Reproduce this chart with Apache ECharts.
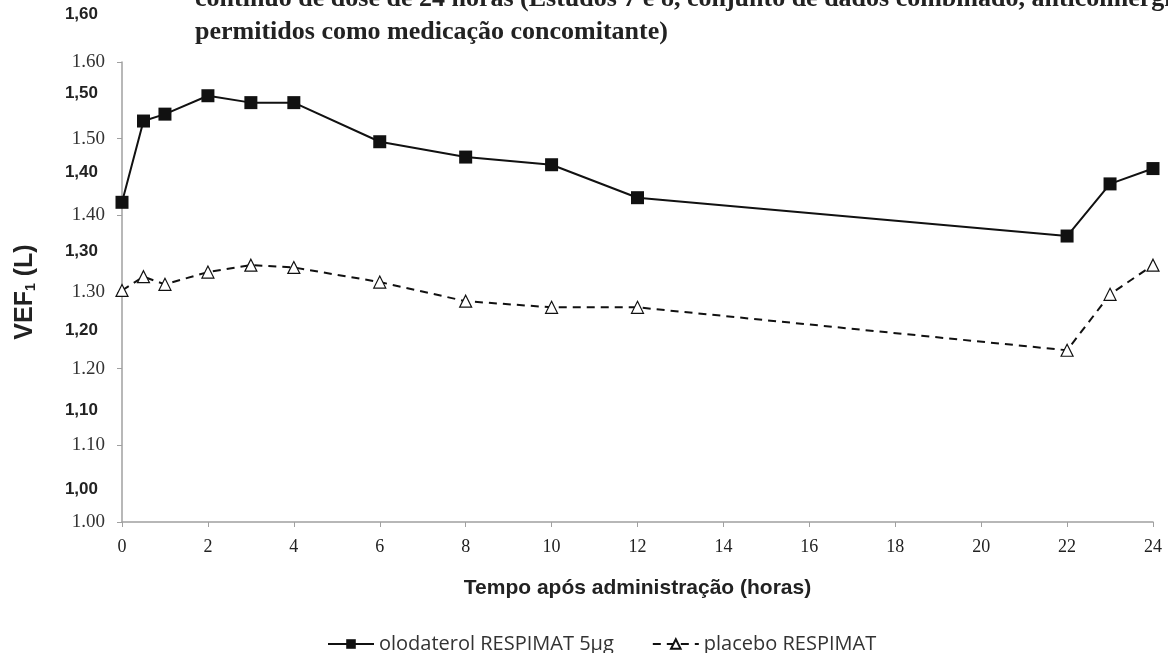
<!DOCTYPE html>
<html>
<head>
<meta charset="utf-8">
<script src="https://cdn.jsdelivr.net/npm/echarts@6/dist/echarts.min.js"></script>
<style>
  html, body { margin: 0; padding: 0; background: #fff; }
  #chart { width: 1168px; height: 653px; }
</style>
</head>
<body>
<div id="chart"></div>
<script>
// hours after dose
const hours = [0, 0.5, 1, 2, 3, 4, 6, 8, 10, 12, 22, 23, 24];
// FEV1 (L)
const olodaterol = [1.417, 1.523, 1.532, 1.556, 1.547, 1.547, 1.496, 1.476, 1.466, 1.423, 1.373, 1.441, 1.461];
const placebo = [1.302, 1.320, 1.310, 1.326, 1.335, 1.332, 1.313, 1.288, 1.280, 1.280, 1.224, 1.297, 1.335];

const seriesNames = ['olodaterol RESPIMAT 5µg', 'placebo RESPIMAT'];
const titleLines = [
  'contínuo de dose de 24 horas (Estudos 7 e 8, conjunto de dados combinado, anticolinérgicos',
  'permitidos como medicação concomitante)'
];

let myChart = echarts.init(document.getElementById('chart'));

const pairs = (ys) => hours.map((h, i) => [h, ys[i]]);

const option = {
  animation: false,
  grid: [
    { left: 122, right: 15, top: 62, bottom: 131 },
    // second, overlapping label column (comma labels)
    { left: 122, right: 15, top: 14, bottom: 164 }
  ],
  xAxis: [
    {
      type: 'value', gridIndex: 0, min: 0, max: 24, interval: 2,
      axisLine: { lineStyle: { color: '#a0a0a0', width: 1.5 } },
      axisTick: { show: true, length: 5, lineStyle: { color: '#a0a0a0' } },
      axisLabel: {
        color: '#222', fontSize: 18, margin: 16,
        fontFamily: 'Liberation Serif'
      },
      splitLine: { show: false },
      name: 'Tempo após administração (horas)',
      nameLocation: 'middle', nameGap: 56,
      nameTextStyle: { fontFamily: 'Liberation Sans', fontWeight: 'bold', fontSize: 21, color: '#222' }
    },
    { type: 'value', gridIndex: 1, min: 0, max: 24, show: false }
  ],
  yAxis: [
    {
      type: 'value', gridIndex: 0, min: 1.0, max: 1.6, interval: 0.1,
      axisLine: { show: true, lineStyle: { color: '#a0a0a0', width: 1.5 } },
      axisTick: { show: true, length: 5, lineStyle: { color: '#a0a0a0' } },
      axisLabel: {
        color: '#333', fontSize: 19, margin: 17,
        fontFamily: 'Liberation Serif',
        formatter: (v) => v.toFixed(2)
      },
      splitLine: { show: false }
    },
    {
      type: 'value', gridIndex: 1, min: 1.0, max: 1.6, interval: 0.1,
      axisLine: { show: false },
      axisTick: { show: false },
      axisLabel: {
        color: '#222', fontSize: 17, fontWeight: 'bold', margin: 24,
        fontFamily: 'Liberation Sans',
        formatter: (v) => v.toFixed(2).replace('.', ',')
      },
      splitLine: { show: false }
    }
  ],
  legend: {
    left: 322, top: 629,
    itemWidth: 46, itemHeight: 12, itemGap: 38,
    textStyle: { fontFamily: 'Open Sans', fontSize: 20, color: '#333' },
    data: seriesNames
  },
  graphic: [
    {
      type: 'text', left: 195, top: -14,
      style: { text: titleLines[0], font: 'bold 26px "Liberation Serif"', fill: '#222' }
    },
    {
      type: 'text', left: 195, top: 19,
      style: { text: titleLines[1], font: 'bold 26px "Liberation Serif"', fill: '#222' }
    },
    {
      type: 'text', x: 25, y: 292, rotation: Math.PI / 2,
      style: {
        text: '{b|VEF}{s|1}{b| (L)}',
        align: 'center', verticalAlign: 'middle',
        rich: {
          b: { font: 'bold 25px "Liberation Sans"', fill: '#222' },
          s: { font: 'bold 14px "Liberation Sans"', fill: '#222', padding: [12, 0, 0, 0] }
        }
      }
    }
  ],
  series: [
    {
      name: seriesNames[0], type: 'line', xAxisIndex: 0, yAxisIndex: 0,
      data: pairs(olodaterol),
      symbol: 'rect', symbolSize: 13,
      lineStyle: { color: '#111', width: 2 },
      itemStyle: { color: '#111' }
    },
    {
      name: seriesNames[1], type: 'line', xAxisIndex: 0, yAxisIndex: 0,
      data: pairs(placebo),
      symbol: 'triangle', symbolSize: 12,
      lineStyle: { color: '#111', width: 2, type: [8, 6] },
      itemStyle: { color: '#fff', borderColor: '#111', borderWidth: 1.2 }
    }
  ]
};

myChart.setOption(option);
</script>
</body>
</html>
